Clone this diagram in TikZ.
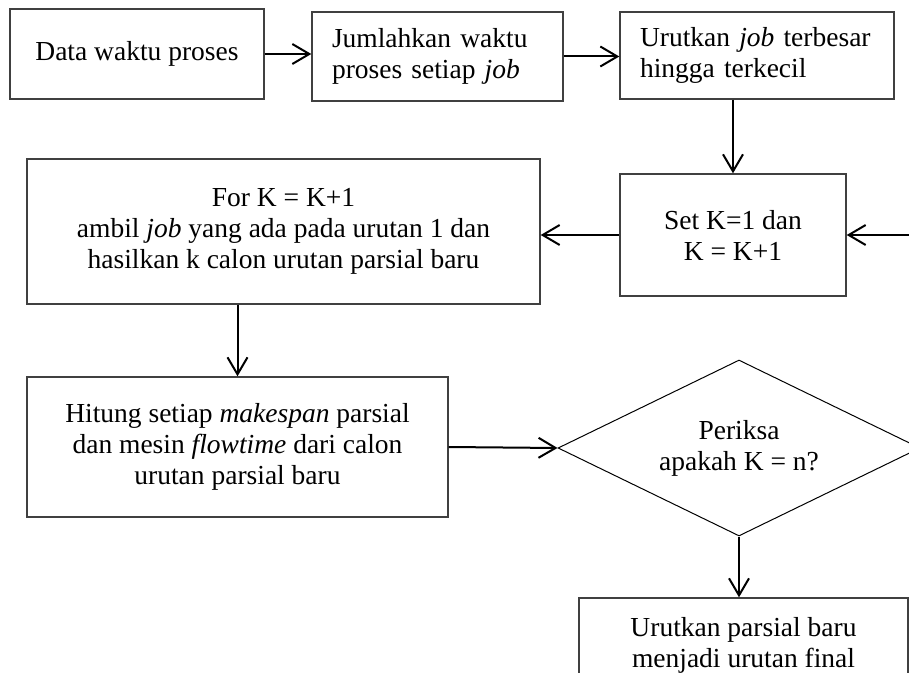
\documentclass[tikz,border=0pt]{standalone}
\usepackage{fontspec}
\setmainfont{Liberation Serif}
\usetikzlibrary{arrows.meta}
\usetikzlibrary{shapes,shapes.geometric}
\tikzset{>={Straight Barb[length=8.5pt,width=10pt]}}
\tikzset{
  txt/.style={inner sep=0pt, font=\fontsize{13.75}{15.5}\selectfont},
  box/.style={txt, draw=black!75, line width=0.7pt, align=center},
  leftbox/.style={box, align=left, inner xsep=10pt},
  decision/.style={txt, draw, line width=0.5pt, shape=diamond, shape aspect=2.06, align=center},
  flow/.style={->, line width=1pt},
}

\begin{document}
\begin{tikzpicture}[x=0.5pt,y=-0.5pt]
  \useasboundingbox (0,0) rectangle (909,673);
  \clip (0,0) rectangle (909,673);

  \node[box, minimum width=127pt, minimum height=45pt] (data) at (137,54) {Data waktu proses};
  \node[leftbox, text width=105.5pt, minimum height=44.5pt] (sum) at (437.5,56.5) {Jumlahkan waktu\\ proses setiap \textit{job}};
  \node[leftbox, text width=117pt, minimum height=43.5pt] (sort) at (757,55.5) {Urutkan \textit{job} terbesar\\ hingga terkecil};
  \node[box, minimum width=113pt, minimum height=61pt] (set) at (733,235) {Set K=1 dan\\ K = K+1};
  \node[box, minimum width=256.5pt, minimum height=72.5pt] (for) at (283.5,231.5) {For K = K+1\\ ambil \textit{job} yang ada pada urutan 1 dan\\ hasilkan k calon urutan parsial baru};
  \node[box, minimum width=210.5pt, minimum height=70pt] (count) at (237.5,447) {Hitung setiap \textit{makespan} parsial\\ dan mesin \textit{flowtime} dari calon\\ urutan parsial baru};
  \node[decision, minimum width=181pt, minimum height=88pt] (check) at (739,448) {Periksa\\ apakah K = n?};
  \node[box, minimum width=164.5pt, minimum height=47pt] (final) at (743.5,645) {Urutkan parsial baru\\ menjadi urutan final};
  \coordinate (back) at (909,235);

  \draw[flow] (data.east) -- (sum.west |- data.east);
  \draw[flow] (sum.east) -- (sort.west |- sum.east);
  \draw[flow] (set.north |- sort.south) -- (set.north);
  \draw[flow] (back) -- (set.east |- back);
  \draw[flow] (set.west) -- (for.east |- set.west);
  \draw[flow] (count.north |- for.south) -- (count.north);
  \draw[flow] (count.east) -- (check.west);
  \draw[flow] (check.south) -- (check.south |- final.north);
\end{tikzpicture}
\end{document}
